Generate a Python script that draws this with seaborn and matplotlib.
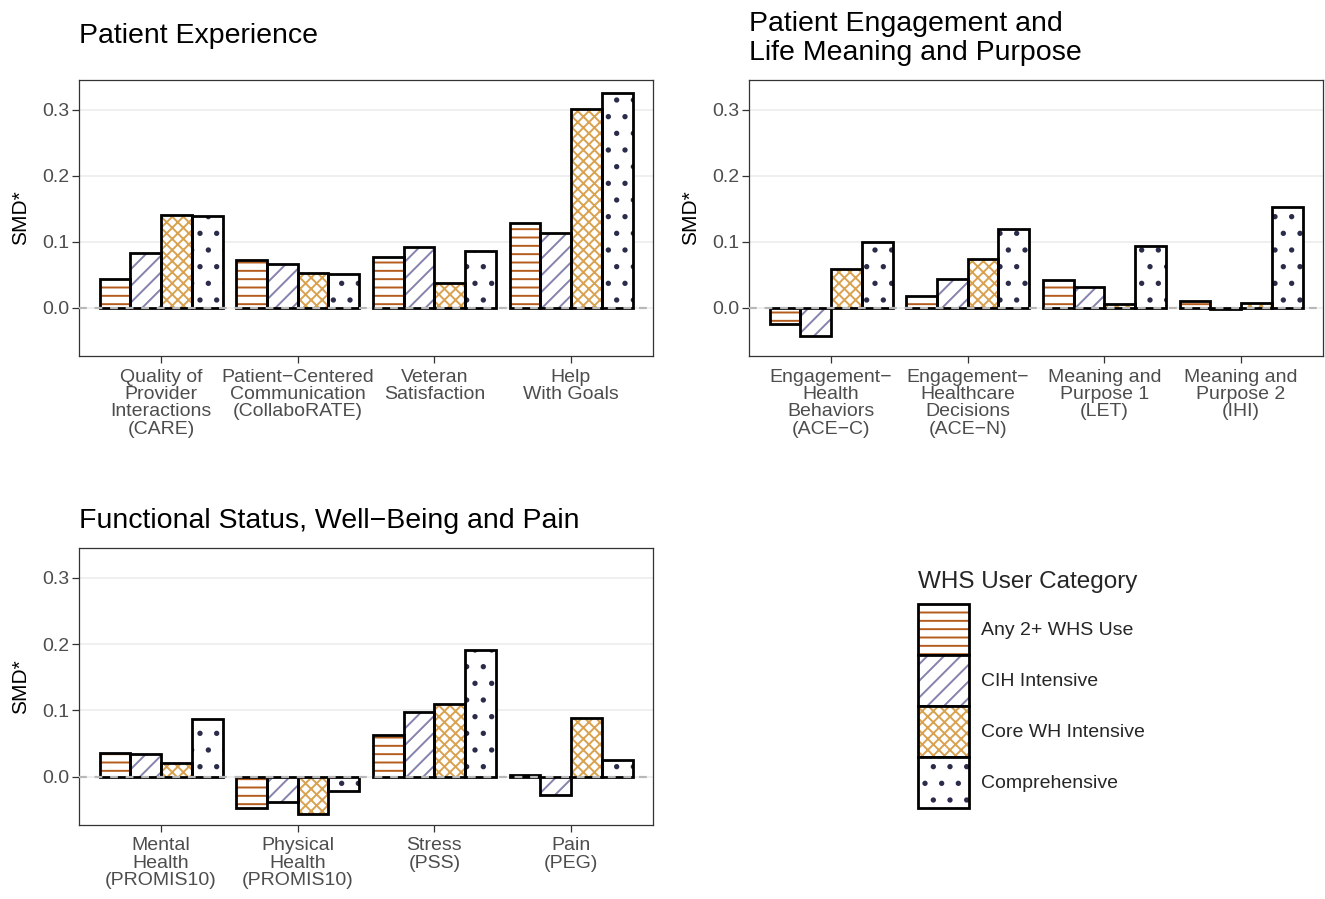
import matplotlib
matplotlib.use("Agg")
import matplotlib.pyplot as plt
from matplotlib.patches import Patch
from matplotlib.legend_handler import HandlerTuple
import numpy as np
import pandas as pd
import seaborn as sns

sns.set_theme(style="white")
plt.rcParams["font.family"] = ["Liberation Sans", "DejaVu Sans"]
plt.rcParams["hatch.linewidth"] = 1.4

# ---------------- data ----------------
groups = ["Any 2+ WHS Use", "CIH Intensive", "Core WH Intensive", "Comprehensive"]

p1_title = "Patient Experience"
p1_measures = ["Quality of\nProvider\nInteractions\n(CARE)",
               "Patient\u2212Centered\nCommunication\n(CollaboRATE)",
               "Veteran\nSatisfaction",
               "Help\nWith Goals"]
p1_any = [0.044, 0.072, 0.077, 0.129]
p1_cih = [0.083, 0.067, 0.092, 0.113]
p1_core = [0.141, 0.053, 0.038, 0.301]
p1_comp = [0.139, 0.051, 0.086, 0.325]

p2_title = "Patient Engagement and\nLife Meaning and Purpose"
p2_measures = ["Engagement\u2212\nHealth\nBehaviors\n(ACE\u2212C)",
               "Engagement\u2212\nHealthcare\nDecisions\n(ACE\u2212N)",
               "Meaning and\nPurpose 1\n(LET)",
               "Meaning and\nPurpose 2\n(IHI)"]
p2_any = [-0.024, 0.018, 0.042, 0.011]
p2_cih = [-0.043, 0.044, 0.032, -0.002]
p2_core = [0.059, 0.074, 0.006, 0.008]
p2_comp = [0.100, 0.119, 0.094, 0.153]

p3_title = "Functional Status, Well\u2212Being and Pain"
p3_measures = ["Mental\nHealth\n(PROMIS10)",
               "Physical\nHealth\n(PROMIS10)",
               "Stress\n(PSS)",
               "Pain\n(PEG)"]
p3_any = [0.036, -0.048, 0.063, 0.003]
p3_cih = [0.034, -0.039, 0.098, -0.027]
p3_core = [0.021, -0.056, 0.110, 0.088]
p3_comp = [0.087, -0.021, 0.191, 0.025]

y_ticks = [0.0, 0.1, 0.2, 0.3]
y_tick_labels = ["0.0", "0.1", "0.2", "0.3"]

# ---------------- style ----------------
hatches = ["--", "//", "xxx", "."]
hatch_colors = ["#b35c1e", "#8583ad", "#d9a250", "#2b2b4a"]
outline_lw = 2.0
ylim = (-0.073, 0.345)
tick_fs = 14

W, H = 1325, 899
fig = plt.figure(figsize=(W / 100, H / 100), dpi=100)


def px_axes(left, top, right, bottom):
    return fig.add_axes([left / W, 1 - bottom / H, (right - left) / W, (bottom - top) / H])


def draw_panel(ax, measures, series, title, pad):
    rows = []
    for g, vals in zip(groups, series):
        for m, v in zip(measures, vals):
            rows.append({"measure": m, "group": g, "smd": v})
    df = pd.DataFrame(rows)
    ax.grid(False)
    ax.yaxis.grid(True, color="#ebebeb", lw=1.1)
    ax.set_axisbelow(True)
    sns.barplot(data=df, x="measure", y="smd", hue="group", order=measures,
                hue_order=groups, palette=["white"] * 4, saturation=1,
                width=0.9, errorbar=None, legend=False, linewidth=0, ax=ax)
    for cont, h, hc in zip(ax.containers, hatches, hatch_colors):
        for p in cont:
            p.set_hatch(h)
            p.set_edgecolor(hc)
            p.set_linewidth(0)
    sns.barplot(data=df, x="measure", y="smd", hue="group", order=measures,
                hue_order=groups, palette=["black"] * 4, fill=False,
                width=0.9, errorbar=None, legend=False, linewidth=outline_lw, ax=ax)
    ax.axhline(0, color="#b8b8b8", lw=1.6, ls=(0, (3.5, 3.5)), zorder=10)
    ax.set_ylim(*ylim)
    ax.set_xlim(-0.6, len(measures) - 0.4)
    ax.set_yticks(y_ticks)
    ax.set_yticklabels(y_tick_labels)
    ax.set_xlabel("")
    ax.set_ylabel("SMD*", fontsize=15, color="black", labelpad=9)
    ax.tick_params(axis="both", length=5, width=0.9, color="#333333",
                   labelcolor="#4d4d4d", labelsize=tick_fs, bottom=True, left=True)
    ax.tick_params(axis="y", pad=2)
    ax.tick_params(axis="x", pad=4)
    for lab in ax.get_xticklabels():
        lab.set_linespacing(1.03)
    for s in ax.spines.values():
        s.set_color("#333333")
        s.set_linewidth(0.9)
    ax.set_title(title, loc="left", fontsize=20.5, pad=pad, color="black",
                 linespacing=1.15)


ax1 = px_axes(79, 80, 653, 356)
draw_panel(ax1, p1_measures, [p1_any, p1_cih, p1_core, p1_comp], p1_title, 27)

ax2 = px_axes(749, 80, 1323, 356)
draw_panel(ax2, p2_measures, [p2_any, p2_cih, p2_core, p2_comp], p2_title, 14.5)

ax3 = px_axes(79, 548, 653, 825)
draw_panel(ax3, p3_measures, [p3_any, p3_cih, p3_core, p3_comp], p3_title, 14.5)

handles = [(Patch(facecolor="white", edgecolor=hc, hatch=h, lw=0),
            Patch(facecolor="none", edgecolor="black", lw=outline_lw))
           for h, hc in zip(hatches, hatch_colors)]
leg = fig.legend(handles, groups, title="WHS User Category",
                 loc="upper left", bbox_to_anchor=(918 / W, 1 - 571 / H),
                 frameon=False, fontsize=14, title_fontsize=17.5,
                 handlelength=2.63, handleheight=3.66, labelspacing=0,
                 handletextpad=0.6, borderpad=0, borderaxespad=0,
                 alignment="left",
                 handler_map={tuple: HandlerTuple(ndivide=1, pad=0)})
leg._legend_box.sep = 8

fig.savefig("out.png", dpi=100)
